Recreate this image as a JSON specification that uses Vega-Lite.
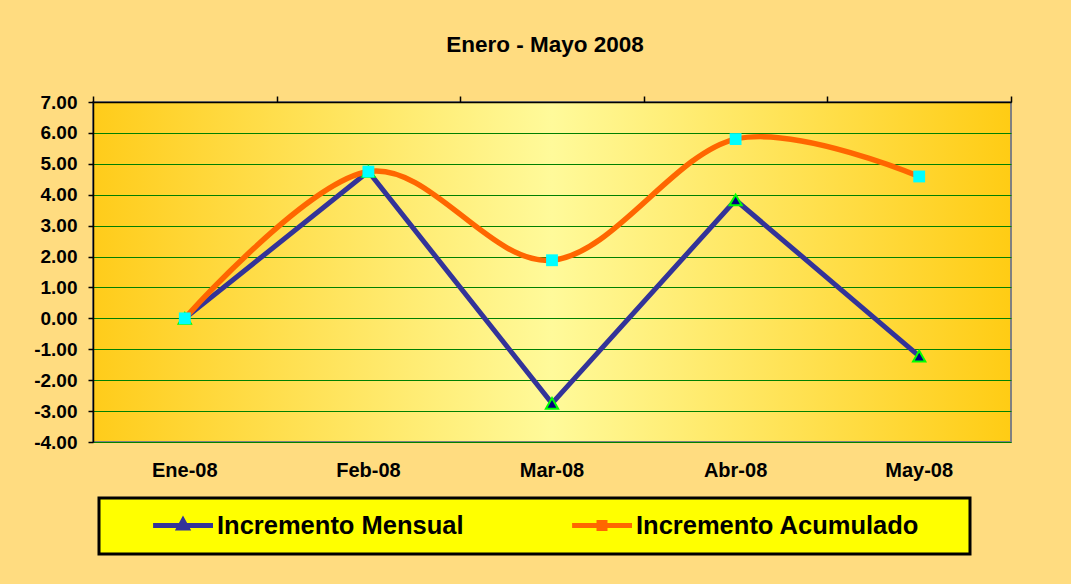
{
  "$schema": "https://vega.github.io/schema/vega-lite/v6.json",
  "width": 918,
  "height": 340,
  "autosize": {"type": "none"},
  "padding": {"left": 93, "top": 102, "right": 60, "bottom": 142},
  "background": "#FFDC80",
  "title": {
    "text": "Enero - Mayo 2008",
    "font": "Liberation Sans",
    "fontSize": 22.5,
    "fontWeight": "bold",
    "color": "#000000",
    "anchor": "middle",
    "offset": 37,
    "dx": -7
  },
  "config": {
    "font": "Liberation Sans",
    "view": {
      "fill": {
        "gradient": "linear",
        "x1": 0, "x2": 1, "y1": 0, "y2": 0,
        "stops": [
          {"offset": 0, "color": "#FFCC1A"},
          {"offset": 0.5, "color": "#FFFA9A"},
          {"offset": 1, "color": "#FFCC14"}
        ]
      },
      "stroke": "#808080",
      "strokeWidth": 2
    }
  },
  "data": {
    "values": [
      {"mes": "Ene-08", "serie": "Incremento Mensual", "valor": 0.0},
      {"mes": "Feb-08", "serie": "Incremento Mensual", "valor": 4.75},
      {"mes": "Mar-08", "serie": "Incremento Mensual", "valor": -2.75},
      {"mes": "Abr-08", "serie": "Incremento Mensual", "valor": 3.83},
      {"mes": "May-08", "serie": "Incremento Mensual", "valor": -1.22},
      {"mes": "Ene-08", "serie": "Incremento Acumulado", "valor": 0.0},
      {"mes": "Feb-08", "serie": "Incremento Acumulado", "valor": 4.75},
      {"mes": "Mar-08", "serie": "Incremento Acumulado", "valor": 1.88},
      {"mes": "Abr-08", "serie": "Incremento Acumulado", "valor": 5.8},
      {"mes": "May-08", "serie": "Incremento Acumulado", "valor": 4.59}
    ]
  },
  "encoding": {
    "x": {
      "field": "mes",
      "type": "ordinal",
      "sort": ["Ene-08", "Feb-08", "Mar-08", "Abr-08", "May-08"],
      "scale": {"type": "band", "paddingInner": 0, "paddingOuter": 0},
      "bandPosition": 0.5,
      "title": null,
      "axis": null
    },
    "y": {
      "field": "valor",
      "type": "quantitative",
      "scale": {"domain": [-4, 7], "nice": false, "zero": false},
      "title": null,
      "axis": {
        "values": [-4, -3, -2, -1, 0, 1, 2, 3, 4, 5, 6, 7],
        "format": ".2f",
        "labelExpr": "replace(datum.label, '\u2212', '-')",
        "labelFont": "Liberation Sans",
        "labelFontSize": 19,
        "labelFontWeight": "bold",
        "labelColor": "#000000",
        "labelPadding": 11,
        "tickSize": 5,
        "tickColor": "#000000",
        "tickWidth": 1.5,
        "domainColor": "#000000",
        "domainWidth": 1.5,
        "grid": true,
        "gridColor": "#008000",
        "gridWidth": 1,
        "gridOpacity": 1
      }
    }
  },
  "layer": [
    {
      "transform": [{"filter": "datum.serie == 'Incremento Mensual'"}],
      "mark": {"type": "line", "strokeWidth": 5, "interpolate": "linear"},
      "encoding": {
        "x": {
          "field": "mes",
          "type": "ordinal",
          "sort": ["Ene-08", "Feb-08", "Mar-08", "Abr-08", "May-08"],
          "scale": {"type": "band", "paddingInner": 0, "paddingOuter": 0},
          "bandPosition": 0.5,
          "title": null,
          "axis": {
            "orient": "bottom",
            "labels": true,
            "ticks": false,
            "domain": false,
            "grid": false,
            "labelAngle": 0,
            "labelFont": "Liberation Sans",
            "labelFontSize": 20,
            "labelFontWeight": "bold",
            "labelColor": "#000000",
            "labelPadding": 18
          }
        },
        "color": {
          "field": "serie",
          "type": "nominal",
          "scale": {
            "domain": ["Incremento Mensual", "Incremento Acumulado"],
            "range": ["#333399", "#FF6600"]
          },
          "legend": {
            "orient": "none",
            "legendX": 6,
            "legendY": 396,
            "direction": "horizontal",
            "title": "\u00a0",
            "titleOrient": "right",
            "titlePadding": 36,
            "titleFontSize": 6,
            "titleColor": "#FFFF00",
            "fillColor": "#FFFF00",
            "strokeColor": "#000000",
            "padding": 15,
            "symbolSize": 9801,
            "symbolType": "M-0.21,-0.05H1V0.05H-0.21Z",
            "symbolStrokeWidth": 0,
            "symbolOpacity": 1,
            "labelFont": "Liberation Sans",
            "labelFontSize": 25.5,
            "labelFontWeight": "bold",
            "labelColor": "#000000",
            "labelLimit": 500,
            "labelOffset": 4,
            "columnPadding": 69,
            "clipHeight": 25,
            "encode": {
              "symbols": {
                "update": {
                  "shape": {"signal": "datum.value == 'Incremento Mensual' ? 'M-0.21,-0.05H1V0.05H-0.21Z M0.394,-0.2L0.56,0.1H0.23Z' : 'M-0.21,-0.05H1V0.05H-0.21Z M0.283,-0.111H0.505V0.111H0.283Z'"},
                  "fill": {"signal": "datum.value == 'Incremento Mensual' ? '#333399' : '#FF6600'"},
                  "stroke": {"value": "transparent"},
                  "strokeWidth": {"value": 0}
                }
              },
              "legend": {
                "update": {"strokeWidth": {"value": 3}}
              }
            }
          }
        }
      }
    },
    {
      "transform": [{"filter": "datum.serie == 'Incremento Acumulado'"}],
      "mark": {"type": "line", "strokeWidth": 5.5, "interpolate": "cardinal"},
      "encoding": {
        "x": {
          "field": "mes",
          "type": "ordinal",
          "sort": ["Ene-08", "Feb-08", "Mar-08", "Abr-08", "May-08"],
          "scale": {"type": "band", "paddingInner": 0, "paddingOuter": 0},
          "bandPosition": 0.5,
          "title": null,
          "axis": {
            "orient": "top",
            "labels": false,
            "ticks": true,
            "tickBand": "extent",
            "tickSize": 6,
            "tickColor": "#000000",
            "tickWidth": 1.5,
            "domain": true,
            "domainColor": "#000000",
            "domainWidth": 1.5,
            "grid": false
          }
        },
        "color": {
          "field": "serie",
          "type": "nominal",
          "scale": {
            "domain": ["Incremento Mensual", "Incremento Acumulado"],
            "range": ["#333399", "#FF6600"]
          }
        }
      }
    },
    {
      "transform": [{"filter": "datum.serie == 'Incremento Mensual'"}],
      "mark": {"type": "point", "shape": "triangle-up", "filled": true, "fill": "#000080", "stroke": "#00FF00", "strokeWidth": 2, "size": 150, "opacity": 1}
    },
    {
      "transform": [{"filter": "datum.serie == 'Incremento Acumulado'"}],
      "mark": {"type": "point", "shape": "square", "filled": true, "fill": "#00FFFF", "strokeWidth": 0, "size": 140, "opacity": 1}
    }
  ],
  "resolve": {"axis": {"x": "independent"}}
}
